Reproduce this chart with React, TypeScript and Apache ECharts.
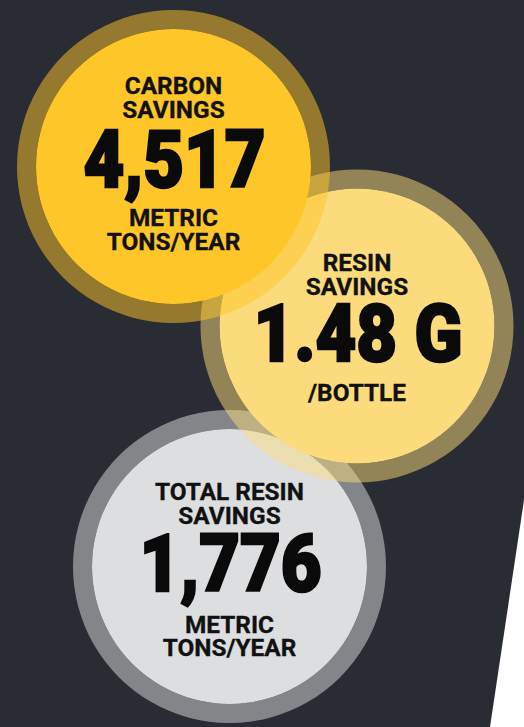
import React, { useEffect, useRef } from "react";
import * as echarts from "echarts";

// ---- content ----
const circleTitles: string[][] = [
  ["CARBON", "SAVINGS"],
  ["RESIN", "SAVINGS"],
  ["TOTAL RESIN", "SAVINGS"],
];
const circleValues: string[] = ["4,517", "1.48 G", "1,776"];
const circleUnits: string[][] = [
  ["METRIC", "TONS/YEAR"],
  ["/BOTTLE"],
  ["METRIC", "TONS/YEAR"],
];

// ---- layout / style (kept apart from the content) ----
const W = 524;
const H = 727;
const BG = "#292c32";
const centers = [
  [173.5, 166.5],
  [357, 326],
  [229.5, 566.5],
];
const R_OUT = 156.5;
const R_IN = 137.5;
const fills = ["#ffc629", "#fbdb7b", "#dddee0"];
// cap-centre y of each text line
const titleY = [
  [85, 108.5],
  [262, 285.5],
  [491, 515],
];
const valueY = [162, 336.5, 566];
const unitY = [[216.5, 241], [392], [623.5, 647]];
const drawOrder = [2, 1, 0];

export default function App() {
  const ref = useRef<HTMLDivElement>(null);
  useEffect(() => {
    if (!ref.current) return;
    const chart = echarts.init(ref.current, undefined, { renderer: "svg" });
    const elements: any[] = [];
    // white wedge at bottom-right
    elements.push({
      type: "polygon",
      shape: { points: [[W, 500], [W, H], [490, H]] },
      style: { fill: "#ffffff" },
    });
    const labelFont = (t: string, x: number, y: number) => ({
      type: "text",
      x,
      y: y + 1.4,
      scaleX: 1.06,
      style: {
        text: t,
        x: 0,
        y: 0,
        align: "center",
        verticalAlign: "middle",
        fontFamily: "Roboto",
        fontWeight: 700,
        fontSize: 23,
        fill: "#111111",
        stroke: "#111111",
        lineWidth: 0.3,
      },
    });
    drawOrder.forEach((i) => {
      const [cx, cy] = centers[i];
      elements.push({
        type: "ring",
        shape: { cx, cy, r: R_OUT, r0: R_IN },
        style: { fill: fills[i], opacity: 0.5 },
      });
      elements.push({
        type: "circle",
        shape: { cx, cy, r: R_IN },
        style: { fill: fills[i] },
      });
      circleTitles[i].forEach((t, k) => elements.push(labelFont(t, cx, titleY[i][k])));
      elements.push({
        type: "text",
        x: cx + 1,
        y: valueY[i] - 3,
        scaleX: 0.88,
        style: {
          text: circleValues[i],
          x: 0,
          y: 0,
          align: "center",
          verticalAlign: "middle",
          fontFamily: "Roboto",
          fontWeight: 900,
          fontSize: 80,
          fill: "#0a0a0a",
          stroke: "#0a0a0a",
          lineWidth: 2.5,
        },
      });
      circleUnits[i].forEach((t, k) => elements.push(labelFont(t, cx, unitY[i][k])));
    });
    chart.setOption({
      animation: false,
      backgroundColor: BG,
      graphic: { elements },
    });
    return () => chart.dispose();
  }, []);
  return (
    <div
      ref={ref}
      style={{ position: "fixed", left: 0, top: 0, width: W, height: H }}
    />
  );
}
